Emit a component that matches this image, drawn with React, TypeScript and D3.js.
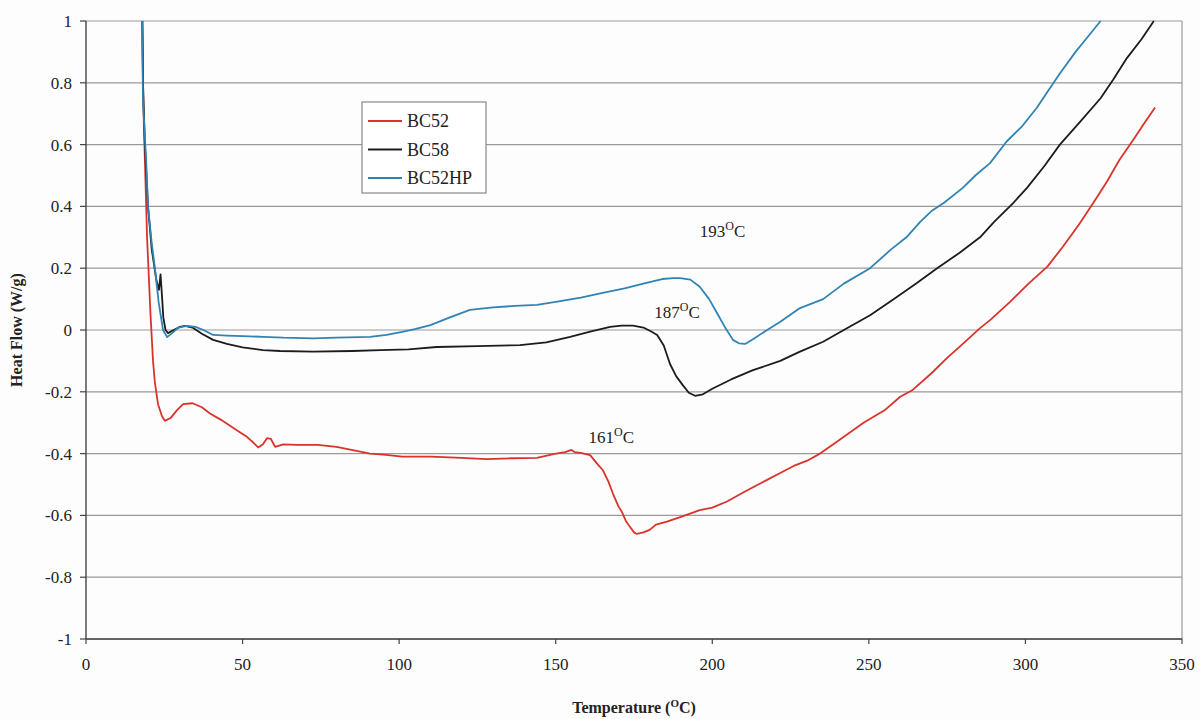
import React from 'react';
import * as d3 from 'd3';

// series: [temperature °C, heat flow W/g]
const bc52: [number, number][] = [
  [18, 1.0], [18.3, 0.73], [19.5, 0.3], [20.6, 0.05], [21.4, -0.1], [22, -0.17], [23, -0.24],
  [24.3, -0.28], [25.2, -0.294], [27, -0.285], [29, -0.26], [31, -0.24], [34, -0.237],
  [37, -0.25], [39.6, -0.27], [43, -0.29], [46, -0.31], [49, -0.33], [51.3, -0.345],
  [53.5, -0.365], [55, -0.38], [56.5, -0.37], [57.8, -0.35], [59, -0.352], [60.4, -0.378],
  [63, -0.37], [67.4, -0.372], [74, -0.372], [80, -0.378], [86, -0.39], [90.7, -0.4],
  [95, -0.403], [101, -0.41], [110, -0.41], [120, -0.414], [128, -0.418], [136, -0.415],
  [144, -0.414], [150, -0.4], [153, -0.395], [155, -0.388], [156, -0.395], [158, -0.398],
  [161, -0.405], [163, -0.43], [165, -0.453], [166.8, -0.49], [168.3, -0.53], [170, -0.57],
  [171.2, -0.59], [172.5, -0.62], [173.7, -0.637], [175, -0.655], [175.9, -0.66],
  [178, -0.655], [180, -0.647], [182, -0.63], [185.5, -0.62], [190, -0.605], [196, -0.583],
  [200, -0.575], [204.7, -0.555], [210, -0.525], [217.5, -0.485], [221.7, -0.463],
  [226, -0.44], [230.3, -0.423], [234.4, -0.4], [240, -0.36], [248.3, -0.3], [255, -0.26],
  [260, -0.216], [264, -0.194], [270, -0.14], [275, -0.09], [280, -0.045], [285.5, 0.006],
  [288.7, 0.032], [295, 0.09], [301, 0.15], [307, 0.205], [312, 0.27], [317, 0.34],
  [321.6, 0.41], [326, 0.48], [330, 0.55], [334.4, 0.615], [338, 0.67], [341.4, 0.72],
];

const bc58: [number, number][] = [
  [18, 1.0], [18.2, 0.8], [18.8, 0.6], [19.8, 0.4], [21, 0.26], [22.5, 0.16], [23.3, 0.13],
  [23.8, 0.18], [24.2, 0.12], [24.7, 0.04], [25.4, 0.0], [26.2, -0.01], [28, 0.0],
  [30, 0.01], [31.6, 0.013], [34, 0.008], [37, -0.012], [40.6, -0.032], [45, -0.045],
  [50, -0.056], [56.5, -0.065], [62, -0.068], [72.5, -0.07], [85, -0.068], [94, -0.065],
  [103, -0.063], [112, -0.055], [125, -0.052], [138.6, -0.049], [147, -0.04],
  [154.6, -0.022], [161, -0.005], [167.4, 0.01], [171, 0.014], [174.7, 0.014],
  [178, 0.008], [180.5, -0.005], [182.4, -0.016], [184.5, -0.05], [186.5, -0.11],
  [188.5, -0.15], [190.7, -0.18], [192.5, -0.203], [194.5, -0.213], [197, -0.208],
  [200, -0.19], [206, -0.16], [213, -0.13], [221.7, -0.1], [228, -0.07], [235.4, -0.038],
  [242, 0.0], [250.4, 0.048], [258, 0.1], [265, 0.15], [271.8, 0.2], [279, 0.25],
  [285.5, 0.3], [290, 0.35], [296, 0.41], [300.5, 0.46], [306, 0.53], [311, 0.6],
  [318, 0.68], [324, 0.75], [328, 0.81], [332.4, 0.88], [337, 0.94], [341, 1.0],
];

const bc52hp: [number, number][] = [
  [17.9, 1.0], [18.2, 0.74], [19.2, 0.55], [19.8, 0.4], [21, 0.28], [22, 0.2],
  [23.2, 0.09], [24.6, 0.0], [25.9, -0.023], [27.5, -0.01], [29.5, 0.008],
  [32.3, 0.013], [35, 0.01], [37.5, 0.0], [40.6, -0.016], [45, -0.018], [50, -0.02],
  [56.6, -0.022], [63, -0.025], [72.5, -0.027], [80, -0.025], [90.7, -0.022],
  [96, -0.016], [101, -0.006], [105, 0.003], [110, 0.016], [116, 0.04], [122.6, 0.065],
  [130, 0.073], [137, 0.078], [144, 0.081], [151, 0.093], [158, 0.105], [165, 0.12],
  [172, 0.135], [178, 0.15], [184, 0.165], [187.5, 0.168], [189.7, 0.168], [193, 0.163],
  [196, 0.14], [199, 0.1], [201.5, 0.055], [204, 0.01], [206.6, -0.032], [208.5, -0.043],
  [210.5, -0.045], [213, -0.03], [217.5, 0.0], [221.6, 0.026], [228, 0.071],
  [235.4, 0.1], [242, 0.15], [250.4, 0.2], [257, 0.26], [262, 0.3], [266.4, 0.35],
  [270, 0.385], [273.8, 0.41], [280, 0.46], [284, 0.5], [288.7, 0.54], [294, 0.61],
  [299, 0.66], [303.7, 0.72], [307, 0.77], [311, 0.83], [316, 0.9], [320, 0.95],
  [324, 1.0],
];

const seriesNames = ['BC52', 'BC58', 'BC52HP'];
const seriesColors = ['#d8342c', '#1c1c1c', '#2f84b4'];

const xTicks = [0, 50, 100, 150, 200, 250, 300, 350];
const yTicks = [1, 0.8, 0.6, 0.4, 0.2, 0, -0.2, -0.4, -0.6, -0.8, -1];

// peak annotations: [temperature text, x value, y value]
const peakLabels: [string, number, number][] = [
  ['193', 196, 0.3],
  ['187', 181.5, 0.04],
  ['161', 160.5, -0.365],
];

const FONT = 'Liberation Serif';

export default function App() {
  const width = 1200;
  const height = 719;
  const margin = { top: 21, right: 18, bottom: 80, left: 86 };
  const w = width - margin.left - margin.right;
  const h = height - margin.top - margin.bottom;

  const x = d3.scaleLinear().domain([0, 350]).range([0, w]);
  const y = d3.scaleLinear().domain([-1, 1]).range([h, 0]);

  const line = d3.line<[number, number]>()
    .x(d => x(d[0]))
    .y(d => y(d[1]));

  const allSeries = [bc52, bc58, bc52hp];

  return (
    <svg width={width} height={height} style={{ position: 'absolute', left: 0, top: 0 }}>
      <rect width={width} height={height} fill="#fdfdfd" />
      <g transform={`translate(${margin.left},${margin.top})`}>
        {/* horizontal grid */}
        {yTicks.map(t => (
          <line key={'g' + t} x1={0} x2={w} y1={y(t)} y2={y(t)}
                stroke="#9a9a9a" strokeWidth={1.2} />
        ))}
        {/* frame */}
        <line x1={w} x2={w} y1={0} y2={h} stroke="#9a9a9a" strokeWidth={1.2} />
        <line x1={0} x2={0} y1={0} y2={h} stroke="#444" strokeWidth={1.4} />
        <line x1={0} x2={w} y1={h} y2={h} stroke="#444" strokeWidth={1.4} />

        {/* y ticks */}
        {yTicks.map(t => (
          <g key={'y' + t} transform={`translate(0,${y(t)})`}>
            <line x1={-6} x2={0} stroke="#444" strokeWidth={1.2} />
            <text x={-14} dy="0.35em" textAnchor="end" fontSize={17} fontFamily={FONT}
                  fill="#222">{t}</text>
          </g>
        ))}
        {/* x ticks */}
        {xTicks.map(t => (
          <g key={'x' + t} transform={`translate(${x(t)},${h})`}>
            <line y1={0} y2={5} stroke="#444" strokeWidth={1.2} />
            <text y={31} textAnchor="middle" fontSize={17} fontFamily={FONT}
                  fill="#222">{t}</text>
          </g>
        ))}

        {/* curves */}
        {allSeries.map((s, i) => (
          <path key={seriesNames[i]} d={line(s) || ''} fill="none"
                stroke={seriesColors[i]} strokeWidth={1.8} strokeLinejoin="round" />
        ))}

        {/* peak labels */}
        {peakLabels.map(p => (
          <text key={p[0]} x={x(p[1])} y={y(p[2])} fontSize={17} fontFamily={FONT} fill="#222">
            {p[0]}
            <tspan fontSize={12} dy={-7}>O</tspan>
            <tspan dy={7}>C</tspan>
          </text>
        ))}

        {/* legend */}
        <g transform="translate(276,81)">
          <rect width={124} height={91} fill="#fff" stroke="#888" strokeWidth={1.2} />
          {seriesNames.map((n, i) => (
            <g key={n} transform={`translate(0,${19 + i * 28.5})`}>
              <line x1={6} x2={40} stroke={seriesColors[i]} strokeWidth={1.8} />
              <text x={45} dy="0.35em" fontSize={18} fontFamily={FONT} fill="#222">{n}</text>
            </g>
          ))}
        </g>
      </g>

      {/* axis titles */}
      <text x={margin.left + w / 2} y={713} textAnchor="middle" fontSize={16}
            fontFamily={FONT} fontWeight="bold" fill="#222">
        Temperature (<tspan fontSize={11} dy={-6}>O</tspan><tspan dy={6}>C)</tspan>
      </text>
      <text transform={`translate(22,${margin.top + h / 2}) rotate(-90)`} textAnchor="middle"
            fontSize={16} fontFamily={FONT} fontWeight="bold" fill="#222">
        Heat Flow (W/g)
      </text>
    </svg>
  );
}
